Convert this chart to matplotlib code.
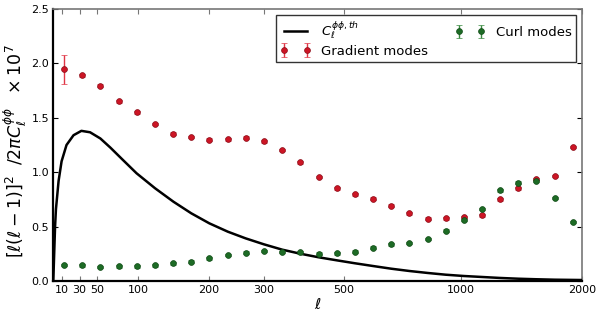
import matplotlib
matplotlib.use("Agg")
import matplotlib.pyplot as plt
from matplotlib.ticker import FixedLocator, FixedFormatter, NullLocator

# ---- data ----
ell_bins = [12, 33, 54, 76, 98, 122, 147, 173, 201, 232, 264, 300, 339, 381,
            428, 479, 535, 596, 665, 740, 823, 914, 1016, 1128, 1252, 1390,
            1542, 1711, 1898]
grad_vals = [1.946, 1.89, 1.795, 1.652, 1.55, 1.443, 1.354, 1.324, 1.299, 1.302,
             1.317, 1.284, 1.204, 1.091, 0.956, 0.852, 0.797, 0.757, 0.692,
             0.622, 0.573, 0.576, 0.588, 0.604, 0.751, 0.852, 0.9375, 0.965, 1.232]
grad_errs = [0.135] + [0.012] * 28
curl_vals = [0.147, 0.144, 0.129, 0.135, 0.135, 0.144, 0.162, 0.178, 0.208, 0.239,
             0.26, 0.276, 0.267, 0.264, 0.251, 0.254, 0.27, 0.306, 0.337, 0.349,
             0.386, 0.462, 0.561, 0.662, 0.834, 0.904, 0.919, 0.763, 0.542]
curl_errs = [0.012] * 29

theory_ell = [0, 1, 2, 3, 6, 9.4, 15, 23, 32, 42, 54, 66, 80, 98, 122, 147, 173,
              201, 232, 264, 300, 339, 381, 428, 479, 535, 596, 665, 740, 823,
              914, 1016, 1128, 1252, 1390, 1542, 1711, 2000]
theory_vals = [0.0, 0.25, 0.5, 0.66, 0.92, 1.10, 1.25, 1.34, 1.38, 1.367, 1.31,
               1.225, 1.12, 0.99, 0.852, 0.729, 0.622, 0.53, 0.453, 0.392, 0.337,
               0.288, 0.251, 0.218, 0.19, 0.163, 0.138, 0.113, 0.092, 0.074,
               0.058, 0.046, 0.037, 0.028, 0.021, 0.016, 0.012, 0.009]

xticks = [10, 30, 50, 100, 200, 300, 500, 1000, 2000]
xticklabels = ["10", "30", "50", "100", "200", "300", "500", "1000", "2000"]
yticks = [0.0, 0.5, 1.0, 1.5, 2.0, 2.5]
yticklabels = ["0.0", "0.5", "1.0", "1.5", "2.0", "2.5"]

RED = "#cc1525"
RED_E = "#e03545"
GREEN = "#1d6b25"
GREEN_E = "#3a8a40"

fig = plt.figure(figsize=(6.0, 3.13), dpi=100)
ax = fig.add_axes([53.3 / 600, 1 - 281 / 313, (582 - 53.3) / 600, (281 - 9) / 313])

ax.set_xscale("asinh", linear_width=200)

ln, = ax.plot(theory_ell, theory_vals, color="black", lw=1.8,
              label=r"$C_\ell^{\phi\phi,th}$", zorder=3)
eg = ax.errorbar(ell_bins, grad_vals, yerr=grad_errs, fmt="o", color=RED,
                 ecolor=RED_E, mec="#8a0d18", mew=0.5, ms=4.2, capsize=2.5,
                 elinewidth=1.0, capthick=1.0, label="Gradient modes", zorder=4)
ec = ax.errorbar(ell_bins, curl_vals, yerr=curl_errs, fmt="o", color=GREEN,
                 ecolor=GREEN_E, mec="#0f4a15", mew=0.5, ms=4.2, capsize=2.5,
                 elinewidth=1.0, capthick=1.0, label="Curl modes", zorder=4)

ax.set_xlim(0, 2000)
ax.set_ylim(0, 2.5)
ax.xaxis.set_major_locator(FixedLocator(xticks))
ax.xaxis.set_major_formatter(FixedFormatter(xticklabels))
ax.xaxis.set_minor_locator(NullLocator())
ax.yaxis.set_major_locator(FixedLocator(yticks))
ax.yaxis.set_major_formatter(FixedFormatter(yticklabels))
ax.yaxis.set_minor_locator(NullLocator())
ax.tick_params(direction="in", top=True, right=True, length=3.5, width=0.8,
               labelsize=8, pad=3, colors="black")
ax.tick_params(axis="x", colors="#777777", labelcolor="black")

for side in ["left", "bottom"]:
    ax.spines[side].set_linewidth(1.6)
    ax.spines[side].set_color("black")
for side in ["top", "right"]:
    ax.spines[side].set_linewidth(1.2)
    ax.spines[side].set_color("#777777")

ax.set_xlabel(r"$\ell$", fontsize=11, labelpad=1)
ax.set_ylabel(r"$[\ell(\ell-1)]^2\ \ /2\pi C_\ell^{\phi\phi}\ \ \times 10^7$",
              fontsize=12.5)
ax.yaxis.set_label_coords(-0.046, 0.476)

leg = ax.legend(handles=[ln, eg, ec], ncol=2, loc="upper right", fontsize=9.5,
                numpoints=2, frameon=True, fancybox=False, borderaxespad=0.45,
                handlelength=2.3, columnspacing=2.0, borderpad=0.35,
                labelspacing=0.25, handletextpad=0.8)
leg.get_frame().set_edgecolor("black")
leg.get_frame().set_linewidth(1.0)

fig.savefig("out.png", dpi=100)
